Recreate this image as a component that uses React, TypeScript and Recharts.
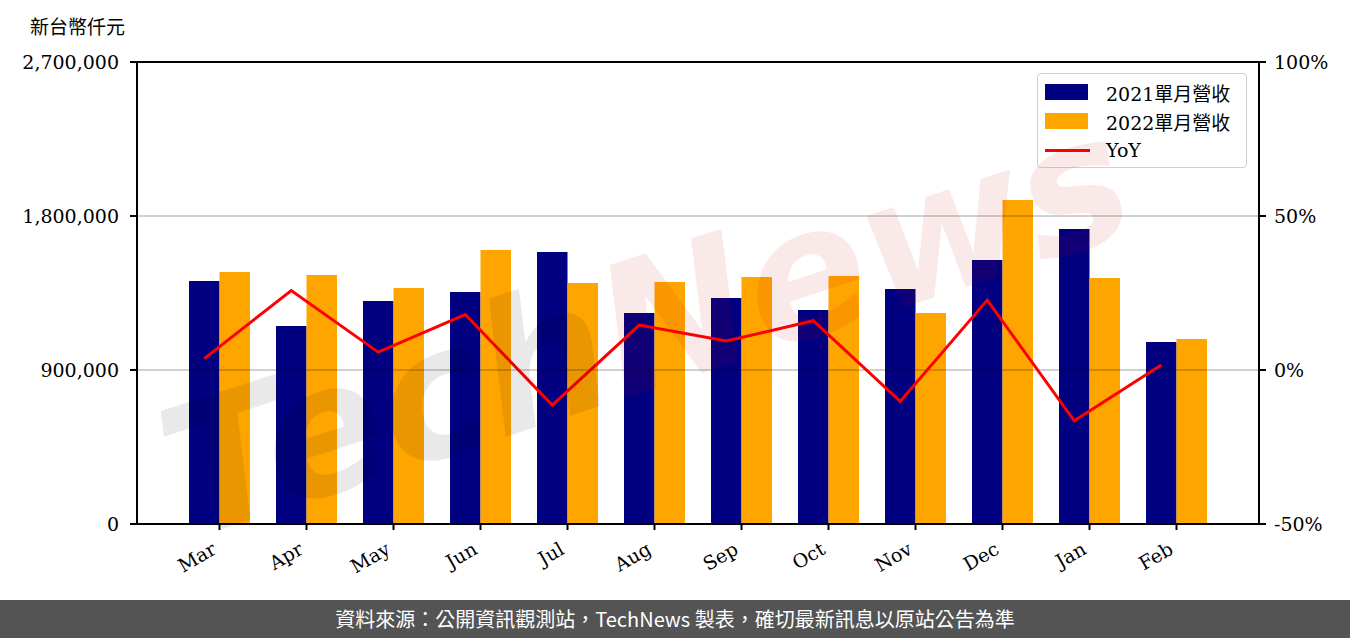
import React from "react";
import {
  ComposedChart,
  Bar,
  Line,
  XAxis,
  YAxis,
  ReferenceLine,
} from "recharts";

const months = ["Mar", "Apr", "May", "Jun", "Jul", "Aug", "Sep", "Oct", "Nov", "Dec", "Jan", "Feb"];
const rev2021 = [1420000, 1157000, 1303000, 1356000, 1590000, 1233000, 1321000, 1251000, 1373000, 1543000, 1724000, 1064000];
const rev2022 = [1473000, 1455000, 1379000, 1601000, 1408000, 1414000, 1443000, 1449000, 1233000, 1893000, 1438000, 1081000];
const yoy = [3.7, 25.8, 5.8, 18.0, -11.4, 14.6, 9.4, 16.0, -10.2, 22.7, -16.5, 1.6];

const leftTicks = [0, 900000, 1800000, 2700000];
const rightTicks = [-50, 0, 50, 100];

const seriesNames = ["2021單月營收", "2022單月營收", "YoY"];
const unitLabel = "新台幣仟元";
const footerText = "資料來源：公開資訊觀測站，TechNews 製表，確切最新訊息以原站公告為準";
const watermarkParts = ["Tech", "News"];

const NAVY = "#000080";
const ORANGE = "#FFA500";
const RED = "#FF0000";

const FONT = "'DejaVu Serif', 'Noto Sans CJK TC', serif";

const data = months.map((m, i) => ({
  month: m,
  r2021: rev2021[i],
  r2022: rev2022[i],
  yoy: yoy[i],
}));

const XTick = (props: any) => {
  const { x, y, payload } = props;
  return (
    <g transform={`translate(${x},${y})`}>
      <text
        x={-2}
        y={21}
        textAnchor="end"
        transform="rotate(-30, -2, 21)"
        fontFamily={FONT}
        fontSize={19}
        fill="#000"
      >
        {payload.value}
      </text>
    </g>
  );
};

export default function App() {
  return (
    <div
      style={{
        position: "absolute",
        left: 0,
        top: 0,
        width: 1350,
        height: 638,
        background: "#fff",
        overflow: "hidden",
      }}
    >
      <div
        style={{
          position: "absolute",
          left: 30,
          top: 16,
          fontFamily: FONT,
          fontSize: 19,
          lineHeight: "22px",
          color: "#000",
        }}
      >
        {unitLabel}
      </div>
      <ComposedChart
        width={1350}
        height={600}
        data={data}
        margin={{ top: 62, right: 11, bottom: 26, left: 27 }}
        barGap={0}
      >
        <XAxis
          xAxisId="bar"
          dataKey="month"
          interval={0}
          padding={{ left: 39, right: 39 }}
          tick={<XTick />}
          tickSize={6}
          height={50}
          axisLine={{ stroke: "#000", strokeWidth: 2 }}
          tickLine={{ stroke: "#000", strokeWidth: 2 }}
        />
        <XAxis
          xAxisId="line"
          dataKey="month"
          hide
          padding={{ left: 23.75, right: 54.25 }}
        />
        <YAxis
          yAxisId="left"
          domain={[0, 2700000]}
          ticks={leftTicks}
          width={110}
          tickSize={7}
          tickMargin={11}
          interval={0}
          tickFormatter={(v: number) => v.toLocaleString("en-US")}
          tick={{ fontFamily: FONT, fontSize: 19, fill: "#000" }}
          axisLine={{ stroke: "#000", strokeWidth: 2 }}
          tickLine={{ stroke: "#000", strokeWidth: 2 }}
        />
        <YAxis
          yAxisId="right"
          orientation="right"
          domain={[-50, 100]}
          ticks={rightTicks}
          width={80}
          tickSize={7}
          tickMargin={8}
          interval={0}
          tickFormatter={(v: number) => `${v}%`}
          tick={{ fontFamily: FONT, fontSize: 19, fill: "#000" }}
          axisLine={{ stroke: "#000", strokeWidth: 2 }}
          tickLine={{ stroke: "#000", strokeWidth: 2 }}
        />
        <Bar
          xAxisId="bar"
          yAxisId="left"
          dataKey="r2021"
          name={seriesNames[0]}
          fill={NAVY}
          barSize={30.5}
          isAnimationActive={false}
        />
        <Bar
          xAxisId="bar"
          yAxisId="left"
          dataKey="r2022"
          name={seriesNames[1]}
          fill={ORANGE}
          barSize={30.5}
          isAnimationActive={false}
        />
        <ReferenceLine xAxisId="bar" yAxisId="left" y={900000} stroke="#000" strokeOpacity={0.18} strokeWidth={2} />
        <ReferenceLine xAxisId="bar" yAxisId="left" y={1800000} stroke="#000" strokeOpacity={0.18} strokeWidth={2} />
        <ReferenceLine xAxisId="bar" yAxisId="left" y={2700000} stroke="#000" strokeWidth={2} />
        <Line
          xAxisId="line"
          yAxisId="right"
          dataKey="yoy"
          name={seriesNames[2]}
          stroke={RED}
          strokeWidth={3}
          dot={false}
          activeDot={false}
          isAnimationActive={false}
        />
      </ComposedChart>

      {/* Legend */}
      <div
        style={{
          position: "absolute",
          left: 1037,
          top: 73,
          width: 208,
          height: 93,
          border: "1.5px solid #d0d0d0",
          borderRadius: 4,
          background: "rgba(255,255,255,0.8)",
          fontFamily: FONT,
          fontSize: 19,
          color: "#000",
        }}
      >
        {[0, 1, 2].map((i) => (
          <div
            key={i}
            style={{
              position: "absolute",
              left: 7,
              top: 4 + i * 29,
              height: 28,
              display: "flex",
              alignItems: "center",
            }}
          >
            {i < 2 ? (
              <div style={{ width: 43, height: 16, background: i === 0 ? NAVY : ORANGE }} />
            ) : (
              <div style={{ width: 45, height: 3, background: RED }} />
            )}
            <span style={{ marginLeft: i < 2 ? 18 : 16 }}>{seriesNames[i]}</span>
          </div>
        ))}
      </div>

      {/* Watermark */}
      <svg
        width={1350}
        height={600}
        style={{ position: "absolute", left: 0, top: 0, pointerEvents: "none" }}
      >
        <text
          x={665}
          y={385}
          textAnchor="middle"
          transform="rotate(-18, 665, 385)"
          fontFamily="'DejaVu Sans', sans-serif"
          fontWeight="bold"
          fontStyle="italic"
          fontSize={180}
        >
          <tspan fill="rgba(0,0,0,0.085)">{watermarkParts[0]}</tspan>
          <tspan fill="rgba(200,0,0,0.085)">{watermarkParts[1]}</tspan>
        </text>
      </svg>

      {/* Footer */}
      <div
        style={{
          position: "absolute",
          left: 0,
          top: 600,
          width: 1350,
          height: 38,
          background: "#545454",
          color: "#fff",
          fontFamily: "'Noto Sans CJK TC', 'Noto Sans', sans-serif",
          fontSize: 20,
          lineHeight: "38px",
          textAlign: "center",
        }}
      >
        {footerText}
      </div>
    </div>
  );
}
